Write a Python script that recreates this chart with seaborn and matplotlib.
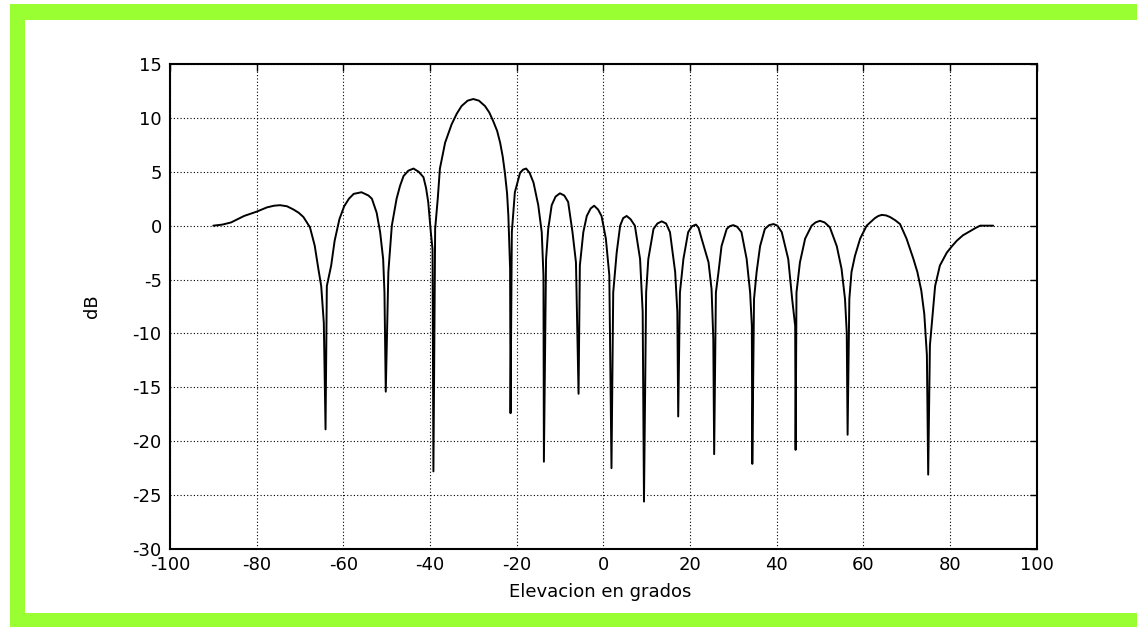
import matplotlib
matplotlib.use("Agg")
import matplotlib.pyplot as plt
from matplotlib.patches import Rectangle
import seaborn as sns
import pandas as pd

# Elevation angle (degrees), one row per lobe, ending at its null
elevation = [
    -90.0, -87.9, -85.9, -82.9, -80.0, -77.6, -76.0, -74.6, -73.0, -71.5, -70.3, -69.2, -67.7, -66.6, -65.8, -65.1, -64.5, -64.1,
    -63.8, -62.8, -62.0, -60.9, -59.8, -58.7, -57.6, -55.8, -54.2, -53.4, -52.3, -51.5, -50.8, -50.5, -50.2,
    -49.8, -49.6, -48.8, -47.7, -46.9, -46.1, -45.0, -43.8, -42.6, -41.5, -40.9, -40.4, -39.8, -39.4, -39.2,
    -38.8, -38.2, -37.7, -36.5, -35.0, -33.8, -32.7, -31.3, -30.0, -28.7, -27.3, -26.3, -25.4, -24.5, -23.8, -23.2, -22.7, -22.2, -21.9, -21.5, -21.4,
    -21.1, -20.4, -19.2, -18.5, -17.8, -17.0, -16.1, -15.0, -14.2, -13.8, -13.7,
    -13.2, -12.7, -11.9, -11.0, -10.0, -9.0, -8.1, -7.1, -6.3, -5.7,
    -5.4, -4.6, -3.8, -2.9, -2.1, -1.2, -0.4, 0.6, 1.4, 1.9,
    2.3, 3.1, 3.9, 4.6, 5.4, 6.3, 7.3, 8.5, 9.1, 9.4,
    9.9, 10.4, 11.6, 12.5, 13.5, 14.5, 15.4, 16.6, 17.1, 17.3,
    17.7, 18.5, 19.6, 20.5, 21.4, 22.0, 22.7, 24.3, 25.0, 25.4, 25.6,
    26.0, 26.6, 27.3, 28.5, 29.2, 30.0, 30.9, 31.9, 33.1, 33.9, 34.3, 34.4,
    34.8, 35.4, 36.2, 37.3, 38.3, 39.3, 40.2, 41.2, 42.7, 43.6, 44.3, 44.4,
    44.6, 45.4, 46.6, 48.1, 49.0, 50.0, 51.1, 52.3, 53.9, 55.0, 55.8, 56.2, 56.4,
    56.8, 57.3, 58.1, 59.3, 60.8, 61.6, 62.7, 63.5, 64.3, 65.3, 66.2, 67.4, 68.5, 70.0, 71.6, 72.5, 73.4, 74.1, 74.7, 75.0,
    75.4, 76.0, 76.6, 77.7, 79.3, 80.5, 81.6, 83.0, 84.7, 86.0, 87.0, 90.0,
]
# Array gain in dB at each elevation
gain_db = [
    0.0, 0.1, 0.3, 0.9, 1.3, 1.7, 1.85, 1.9, 1.8, 1.5, 1.2, 0.8, -0.15, -1.85, -3.9, -5.6, -9.0, -18.9,
    -5.6, -3.7, -1.4, 0.6, 1.8, 2.5, 2.95, 3.1, 2.8, 2.5, 1.2, -0.6, -3.1, -6.2, -15.4,
    -8.0, -4.3, 0.0, 2.5, 3.7, 4.6, 5.1, 5.3, 5.0, 4.5, 3.5, 2.2, -0.6, -2.2, -22.8,
    -0.3, 2.5, 5.3, 7.7, 9.4, 10.4, 11.1, 11.6, 11.75, 11.6, 11.1, 10.5, 9.7, 8.8, 7.7, 6.4, 4.9, 3.0, 0.9, -4.0, -17.4,
    -0.6, 3.1, 4.9, 5.2, 5.3, 4.9, 4.0, 1.9, -0.6, -4.6, -21.9,
    -3.1, -0.3, 1.9, 2.7, 3.0, 2.8, 2.2, -0.6, -3.4, -15.6,
    -3.7, -0.6, 0.9, 1.6, 1.85, 1.5, 0.9, -1.2, -4.6, -22.5,
    -6.2, -2.5, 0.0, 0.7, 0.9, 0.6, 0.0, -3.1, -8.0, -25.6,
    -6.2, -3.1, -0.3, 0.2, 0.4, 0.2, -0.6, -4.3, -8.0, -17.7,
    -6.2, -3.1, -0.6, -0.05, 0.1, -0.2, -1.2, -3.4, -5.9, -10.5, -21.2,
    -6.2, -4.3, -1.9, -0.3, -0.05, 0.05, -0.1, -0.6, -3.1, -6.2, -9.3, -22.1,
    -6.8, -4.3, -1.9, -0.3, 0.05, 0.15, 0.0, -0.6, -3.1, -6.8, -9.3, -20.8,
    -6.2, -3.4, -1.2, 0.0, 0.3, 0.45, 0.3, -0.15, -1.9, -4.0, -6.8, -9.9, -19.4,
    -6.8, -4.3, -2.8, -1.2, 0.0, 0.3, 0.7, 0.9, 1.0, 0.95, 0.8, 0.5, 0.15, -1.2, -3.1, -4.3, -6.0, -8.2, -12.0, -23.1,
    -11.1, -8.4, -5.6, -3.7, -2.5, -1.9, -1.4, -0.9, -0.5, -0.2, 0.0, 0.0,
]

x_ticks = [-100, -80, -60, -40, -20, 0, 20, 40, 60, 80, 100]
y_ticks = [-30, -25, -20, -15, -10, -5, 0, 5, 10, 15]

sns.set_style("white")
plt.rcParams["font.family"] = ["DejaVu Sans"]
plt.rcParams["axes.unicode_minus"] = False
plt.rcParams["text.color"] = "black"
plt.rcParams["axes.labelcolor"] = "black"

fig = plt.figure(figsize=(11.37, 6.27), dpi=100)
fig.patch.set_facecolor("white")

# Green frame around the figure (drawn beneath the axes)
green = "#99ff33"
W, H = 1137.0, 627.0
outer = Rectangle((10 / W, 0), 1 - 10 / W, 1 - 4 / H, transform=fig.transFigure,
                  facecolor=green, edgecolor="none", zorder=-20)
inner = Rectangle((25 / W, 14 / H), 1 - 25 / W, 1 - 20 / H - 14 / H,
                  transform=fig.transFigure, facecolor="white",
                  edgecolor="none", zorder=-10)
fig.add_artist(outer)
fig.add_artist(inner)

ax = fig.add_axes([170 / W, 1 - 549 / H, (1036.5 - 170) / W, (549 - 64) / H])
ax.set_zorder(5)

df = pd.DataFrame({"Elevacion": elevation, "dB": gain_db})
sns.lineplot(data=df, x="Elevacion", y="dB", sort=False, color="black",
             linewidth=1.4, ax=ax)

ax.set_xlim(-100, 100)
ax.set_ylim(-30, 15)
ax.set_xticks(x_ticks)
ax.set_yticks(y_ticks)
ax.grid(True, color="black", linestyle=(0, (1, 2)), linewidth=0.8)
for s in ax.spines.values():
    s.set_visible(True)
    s.set_color("black")
    s.set_linewidth(1.5)
ax.tick_params(direction="in", length=5, width=1, top=True, right=True,
               labelsize=13, colors="black")
ax.tick_params(axis="y", pad=6)
ax.tick_params(axis="x", pad=5)
ax.set_xlabel("Elevacion en grados", fontsize=13, color="black")
ax.set_ylabel("dB", fontsize=13, color="black")
ax.xaxis.set_label_coords(0.497, -0.071)
ax.yaxis.set_label_coords(-0.080, 0.5)

fig.savefig("out.png", dpi=100, facecolor="white")
